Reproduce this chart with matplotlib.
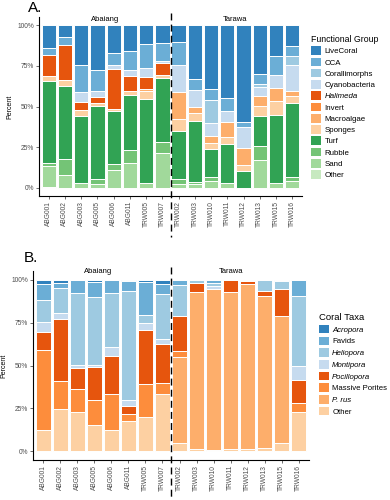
import numpy as np
import matplotlib
matplotlib.use("Agg")
import matplotlib.pyplot as plt
from matplotlib.patches import Patch

plt.rcParams['font.family'] = ['Liberation Sans', 'DejaVu Sans']

sites = ["ABG001", "ABG002", "ABG003", "ABG005", "ABG006", "ABG011", "TRW005", "TRW007",
         "TRW002", "TRW003", "TRW010", "TRW011", "TRW012", "TRW013", "TRW015", "TRW016"]

# Panel A: functional groups (percent cover)
groups_a = ["LiveCoral", "CCA", "Corallimorphs", "Cyanobacteria", "Halimeda", "Invert",
            "Macroalgae", "Sponges", "Turf", "Rubble", "Sand", "Other"]
livecoral = [14, 7, 24.3, 27.8, 16.9, 15.9, 11.3, 10.7, 10.3, 33, 39.2, 44.7, 59.4, 29.9, 19, 12.8]
cca = [4.6, 5, 16.3, 12.8, 7.8, 11.9, 15.1, 11.6, 14, 6.6, 6.8, 8.3, 3.5, 6.2, 11.9, 6.4]
corallimorphs = [0, 0, 0, 0, 0, 0, 0, 0, 0, 0, 14.2, 0, 0, 2, 0, 5.1]
cyanobacteria = [0, 0, 6.2, 3.7, 2.1, 3.7, 5.6, 0.8, 16.9, 10.9, 7.8, 6.4, 12.4, 5.6, 7.7, 15.9]
halimeda = [12.5, 22, 5.2, 3.5, 24.7, 9.1, 6.8, 7.5, 0, 0, 0, 0, 0, 0, 0, 0]
invert = [0, 0, 0, 0, 0, 0, 0, 0, 0, 0, 0, 0, 0, 0, 0, 0]
macroalgae = [0, 0, 0, 0, 0, 0, 1.5, 0, 16.5, 3.5, 4.2, 9.1, 10.7, 6.2, 8.2, 3.1]
sponges = [3, 3.5, 3.5, 2.1, 1.5, 2.3, 4.7, 1.9, 7.3, 5.2, 3.7, 4.7, 3.7, 5.8, 8.5, 4.5]
turf = [50.5, 45, 40.8, 44.9, 32.2, 33.8, 51.5, 39.4, 29.8, 37.3, 17.5, 24.1, 10.3, 18.5, 42, 45.6]
rubble = [2.2, 9.3, 0, 2.7, 3.7, 7.8, 0, 7, 2.7, 1.4, 2.1, 0, 0, 8.7, 0, 2.5]
sand = [12.8, 8.2, 3.1, 2.5, 11.1, 15.5, 3.1, 21.2, 2.5, 2.1, 4.5, 2.7, 0, 17.1, 2.7, 4.1]
other_a = [0.4, 0, 0, 0, 0, 0, 0, 0, 0, 0, 0, 0, 0, 0, 0, 0]

# Panel B: coral taxa
taxa_b = ["Acropora", "Favids", "Heliopora", "Montipora", "Pocillopora", "Massive Porites", "P. rus", "Other"]
acropora = [2.3, 2, 0, 1.4, 0, 1, 1.4, 2.5, 0, 0, 0, 0, 0, 0, 0, 0]
favids = [9.4, 2.9, 7.8, 8.7, 7.8, 5.8, 19.1, 5.9, 3.3, 0, 2, 0, 0, 0, 1, 9.4]
heliopora = [13.1, 14.1, 41.9, 39.6, 31.2, 63.4, 4.8, 26.3, 18.1, 2, 2, 0, 1, 6.8, 4.5, 40.9]
montipora = [5.8, 3.5, 2, 1, 5.4, 3.5, 3.9, 2.7, 0, 0, 1.5, 0, 0, 0, 0, 8.2]
pocillopora = [10.3, 36.1, 12.2, 19.1, 21.9, 4.7, 31.8, 22.6, 19.9, 5.4, 0, 7.4, 1.6, 2.9, 15.9, 13.6]
massive_porites = [46.8, 16.1, 13.1, 14.6, 21.4, 3.9, 18.9, 6.7, 3.9, 0, 0, 0, 0, 0, 0, 4.9]
p_rus = [0, 0, 0, 0, 0, 0, 0, 0, 49.7, 91.4, 95.9, 91.4, 95.3, 88.2, 73.7, 0]
other_b = [12.3, 24.4, 23, 15.6, 12.3, 17.7, 20.1, 33.3, 5.1, 1.2, 0.6, 1.2, 1.6, 2.1, 4.9, 23]

colors_a = ["#3182bd", "#6baed6", "#9ecae1", "#c6dbef", "#e6550d", "#fd8d3c", "#fdae6b", "#fdd0a2",
            "#31a354", "#74c476", "#a1d99b", "#c7e9c0"]
colors_b = ["#3182bd", "#6baed6", "#9ecae1", "#c6dbef", "#e6550d", "#fd8d3c", "#fdae6b", "#fdd0a2"]

series_a = [livecoral, cca, corallimorphs, cyanobacteria, halimeda, invert, macroalgae, sponges,
            turf, rubble, sand, other_a]
series_b = [acropora, favids, heliopora, montipora, pocillopora, massive_porites, p_rus, other_b]

fig = plt.figure(figsize=(3.9, 5.0), dpi=100)
W, H = 390, 500


def make_ax(left, top, right, bottom):
    return fig.add_axes([left / W, 1 - bottom / H, (right - left) / W, (bottom - top) / H])


def draw_panel(ax, series, colors, names, italic, legend_title, leg_xy, label_pos, title_y,
               handle_h, lab_spacing, title_fs, lab_fs):
    data = np.array(series, dtype=float)
    data = data / data.sum(axis=0)
    x = np.arange(len(sites))
    # stack: last category at bottom
    bottom = np.zeros(len(sites))
    for i in range(len(series) - 1, -1, -1):
        ax.bar(x, data[i], bottom=bottom, width=0.88, color=colors[i], edgecolor="white",
               linewidth=0.7)
        bottom += data[i]
    ax.set_xlim(-0.6, len(sites) - 0.4)
    ax.set_ylim(-0.05, 1.05)
    ax.set_yticks([0, 0.25, 0.5, 0.75, 1.0])
    ax.set_yticklabels(["0%", "25%", "50%", "75%", "100%"], fontsize=4.8, color="#4d4d4d")
    ax.set_xticks(x)
    ax.set_xticklabels(sites, rotation=90, fontsize=4.8, color="#4d4d4d")
    ax.tick_params(length=2, width=0.5, color="#333333", pad=1.5)
    for s in ["top", "right"]:
        ax.spines[s].set_visible(False)
    for s in ["left", "bottom"]:
        ax.spines[s].set_linewidth(0.8)
    ax.set_ylabel("Percent", fontsize=5, labelpad=3)
    ax.plot([7.5, 7.5], [1.075, -0.3], color="black", linestyle=(0, (5, 3)), linewidth=1.0,
            clip_on=False)
    ax.text(label_pos[0], title_y, "Abaiang", ha="center", va="center", fontsize=5.5)
    ax.text(label_pos[1], title_y, "Tarawa", ha="center", va="center", fontsize=5.5)
    handles = [Patch(facecolor=c, edgecolor="none") for c in colors]
    leg = fig.legend(handles, names, loc="upper left", bbox_to_anchor=leg_xy, frameon=False,
                     fontsize=lab_fs, title=legend_title, title_fontsize=title_fs,
                     handlelength=handle_h, handleheight=handle_h, labelspacing=lab_spacing,
                     handletextpad=0.4, borderpad=0, borderaxespad=0, alignment="left")
    for t in leg.get_texts():
        if t.get_text() in italic:
            t.set_fontstyle("italic")


axA = make_ax(39, 17, 302, 196)
draw_panel(axA, series_a, colors_a, groups_a, {"Halimeda"}, "Functional Group",
           (311 / W, 1 - 35 / H), (3.5, 11.5), 1.035, 1.3, 0.29, 6.3, 5.7)

axB = make_ax(33, 271, 309, 460)
draw_panel(axB, series_b, colors_b, taxa_b,
           {"Acropora", "Heliopora", "Montipora", "Pocillopora", "P. rus"}, "Coral Taxa",
           (319 / W, 1 - 313 / H), (3.2, 11.0), 1.045, 1.3, 0.37, 6.8, 5.6)

fig.text(28 / W, 1 - 1 / H, "A.", fontsize=11, ha="left", va="top")
fig.text(24 / W, 1 - 251 / H, "B.", fontsize=11, ha="left", va="top")

fig.savefig("out.png", dpi=100)
